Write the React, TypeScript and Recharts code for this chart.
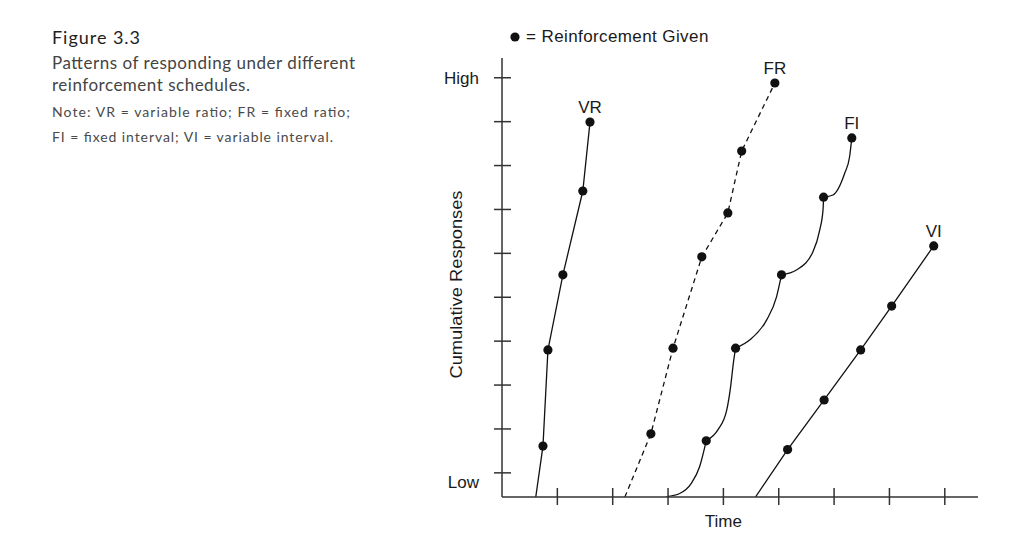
import { ComposedChart, Line, Scatter, XAxis, YAxis } from 'recharts';

type Pt = { t: number; r: number };

// axis ticks (time units / response units)
const xTicks = [10, 20, 30, 40, 50, 60, 70, 80];
const yTicks = [5.5, 15.5, 25.5, 35.5, 45.5, 55.5, 65.5, 75.5, 85.5, 95.5];
const lowTick = 3.4;
const yTickText: Record<number, string> = { 95.5: 'High', 3.4: 'Low' };

// cumulative records
const vr: Pt[] = [
  { t: 6.1, r: 0 },
  { t: 7.4, r: 11.6 },
  { t: 8.3, r: 33.5 },
  { t: 11.0, r: 50.6 },
  { t: 14.6, r: 69.7 },
  { t: 15.9, r: 85.4 },
];

const fr: Pt[] = [
  { t: 22.2, r: 0 },
  { t: 26.9, r: 14.4 },
  { t: 30.9, r: 33.9 },
  { t: 36.1, r: 54.7 },
  { t: 40.8, r: 64.7 },
  { t: 43.3, r: 78.8 },
  { t: 49.3, r: 94.3 },
];

// fixed interval: one scallop per reinforcement
const fiScallops: Pt[][] = [
  [
    { t: 29.7, r: 0.1 },
    { t: 32.1, r: 0.8 },
    { t: 34.2, r: 3.1 },
    { t: 35.7, r: 6.9 },
    { t: 36.9, r: 12.8 },
  ],
  [
    { t: 36.9, r: 12.8 },
    { t: 39.0, r: 15.3 },
    { t: 40.6, r: 19.8 },
    { t: 41.3, r: 25.1 },
    { t: 41.8, r: 30.5 },
    { t: 42.2, r: 33.9 },
  ],
  [
    { t: 42.2, r: 33.9 },
    { t: 44.8, r: 35.8 },
    { t: 47.8, r: 40.3 },
    { t: 49.6, r: 45.6 },
    { t: 50.5, r: 50.6 },
  ],
  [
    { t: 50.5, r: 50.6 },
    { t: 53.2, r: 51.7 },
    { t: 56.2, r: 55.9 },
    { t: 57.4, r: 60.8 },
    { t: 58.0, r: 65.4 },
    { t: 58.1, r: 68.3 },
  ],
  [
    { t: 58.1, r: 68.3 },
    { t: 59.8, r: 68.8 },
    { t: 61.9, r: 73.7 },
    { t: 62.8, r: 77.5 },
    { t: 63.2, r: 81.8 },
  ],
];

const vi: Pt[] = [
  { t: 45.8, r: 0 },
  { t: 51.6, r: 10.8 },
  { t: 58.2, r: 22.1 },
  { t: 64.8, r: 33.5 },
  { t: 70.4, r: 43.5 },
  { t: 78.0, r: 57.2 },
];

const last = (a: Pt[]) => a[a.length - 1];

const reinforcements: Pt[] = [
  ...vr.slice(1),
  ...fr.slice(1),
  ...fiScallops.map(last),
  ...vi.slice(1),
];

const tags = [
  { name: 'VR', ...last(vr) },
  { name: 'FR', ...last(fr) },
  { name: 'FI', ...last(fiScallops[fiScallops.length - 1]) },
  { name: 'VI', ...last(vi) },
];

const INK = '#111';
const AXIS = '#333';
const SANS = '"Liberation Sans", Arial, sans-serif';
const FS = 17;

const XTick = (props: any) => {
  const { x, y } = props;
  return <line x1={x} x2={x} y1={y - 9} y2={y + 8} stroke={AXIS} strokeWidth={1.5} />;
};

const YTick = (props: any) => {
  const { x, y, payload } = props;
  const label = yTickText[payload.value];
  return (
    <g>
      {payload.value !== lowTick && (
        <line x1={x - 8} x2={x + 9} y1={y} y2={y} stroke={AXIS} strokeWidth={1.5} />
      )}
      {label && (
        <text x={x - 23} y={y + 6} textAnchor="end" fontSize={FS} fontFamily={SANS} fill="#1a1a1a">
          {label}
        </text>
      )}
    </g>
  );
};

const YTitle = (props: any) => {
  const { x, y, height } = props.viewBox;
  const cx = x + 20;
  const cy = y + height / 2 + 7;
  return (
    <text
      x={cx}
      y={cy}
      transform={`rotate(-90, ${cx}, ${cy})`}
      textAnchor="middle"
      fontSize={FS}
      fontFamily={SANS}
      fill="#1a1a1a"
      textLength={188}
      lengthAdjust="spacingAndGlyphs"
    >
      Cumulative Responses
    </text>
  );
};

const XTitle = (props: any) => {
  const { x, y, width } = props.viewBox;
  return (
    <text x={x + (width * 40) / 86} y={y + 30} textAnchor="middle" fontSize={FS} fontFamily={SANS} fill="#1a1a1a">
      Time
    </text>
  );
};

const Dot = (props: any) => <circle cx={props.cx} cy={props.cy} r={4.6} fill={INK} />;

const Tag = (props: any) => (
  <text x={props.cx} y={props.cy - 9} textAnchor="middle" fontSize={FS} fontFamily={SANS} fill="#1a1a1a">
    {props.payload.name}
  </text>
);

const caption = [
  { text: 'Figure 3.3', y: 44, size: 18, width: 88, color: '#1e1e1e' },
  { text: 'Patterns of responding under different', y: 69, size: 17, width: 303, color: '#444' },
  { text: 'reinforcement schedules.', y: 91, size: 17, width: 198, color: '#444' },
  { text: 'Note: VR = variable ratio; FR = fixed ratio;', y: 117, size: 14, width: 298, color: '#4a4a4a' },
  { text: 'FI = fixed interval; VI = variable interval.', y: 142, size: 14, width: 281, color: '#4a4a4a' },
];

export default function App() {
  return (
    <div style={{ position: 'absolute', left: 0, top: 0, width: 1024, height: 547, background: '#fff' }}>
      <svg width={420} height={160} style={{ position: 'absolute', left: 0, top: 0 }}>
        {caption.map((c) => (
          <text
            key={c.text}
            x={52}
            y={c.y}
            fontSize={c.size}
            fontFamily="Lato, sans-serif"
            fill={c.color}
            textLength={c.width}
            lengthAdjust="spacing"
          >
            {c.text}
          </text>
        ))}
      </svg>
      <div
        style={{
          position: 'absolute',
          left: 508,
          top: 27,
          fontFamily: SANS,
          fontSize: FS,
          letterSpacing: 0.4,
          color: '#1a1a1a',
          display: 'flex',
          alignItems: 'center',
          whiteSpace: 'nowrap',
        }}
      >
        <svg width={14} height={14} style={{ marginRight: 4 }}>
          <circle cx={7} cy={7} r={4.6} fill={INK} />
        </svg>
        = Reinforcement Given
      </div>
      <ComposedChart width={1024} height={547} margin={{ top: 58, right: 46, bottom: 20, left: 442 }}>
        <XAxis
          type="number"
          dataKey="t"
          domain={[0, 86]}
          ticks={xTicks}
          interval={0}
          tickSize={0}
          tickMargin={0}
          tickLine={false}
          tick={<XTick />}
          height={30}
          axisLine={{ stroke: AXIS, strokeWidth: 1.5 }}
          allowDataOverflow
          label={<XTitle />}
        />
        <YAxis
          type="number"
          dataKey="r"
          domain={[0, 100]}
          ticks={[lowTick, ...yTicks]}
          interval={0}
          tickSize={0}
          tickMargin={0}
          tickLine={false}
          tick={<YTick />}
          width={60}
          axisLine={{ stroke: AXIS, strokeWidth: 1.5 }}
          allowDataOverflow
          label={<YTitle />}
        />
        <Line data={vr} dataKey="r" type="linear" stroke={INK} strokeWidth={1.3} dot={false} isAnimationActive={false} />
        <Line
          data={fr}
          dataKey="r"
          type="linear"
          stroke={INK}
          strokeWidth={1.3}
          strokeDasharray="5 4"
          dot={false}
          isAnimationActive={false}
        />
        {fiScallops.map((seg, i) => (
          <Line
            key={i}
            data={seg}
            dataKey="r"
            type="monotoneX"
            stroke={INK}
            strokeWidth={1.3}
            dot={false}
            isAnimationActive={false}
          />
        ))}
        <Line data={vi} dataKey="r" type="linear" stroke={INK} strokeWidth={1.3} dot={false} isAnimationActive={false} />
        <Scatter data={reinforcements} dataKey="r" shape={<Dot />} isAnimationActive={false} />
        <Scatter data={tags} dataKey="r" shape={<Tag />} isAnimationActive={false} />
      </ComposedChart>
    </div>
  );
}
